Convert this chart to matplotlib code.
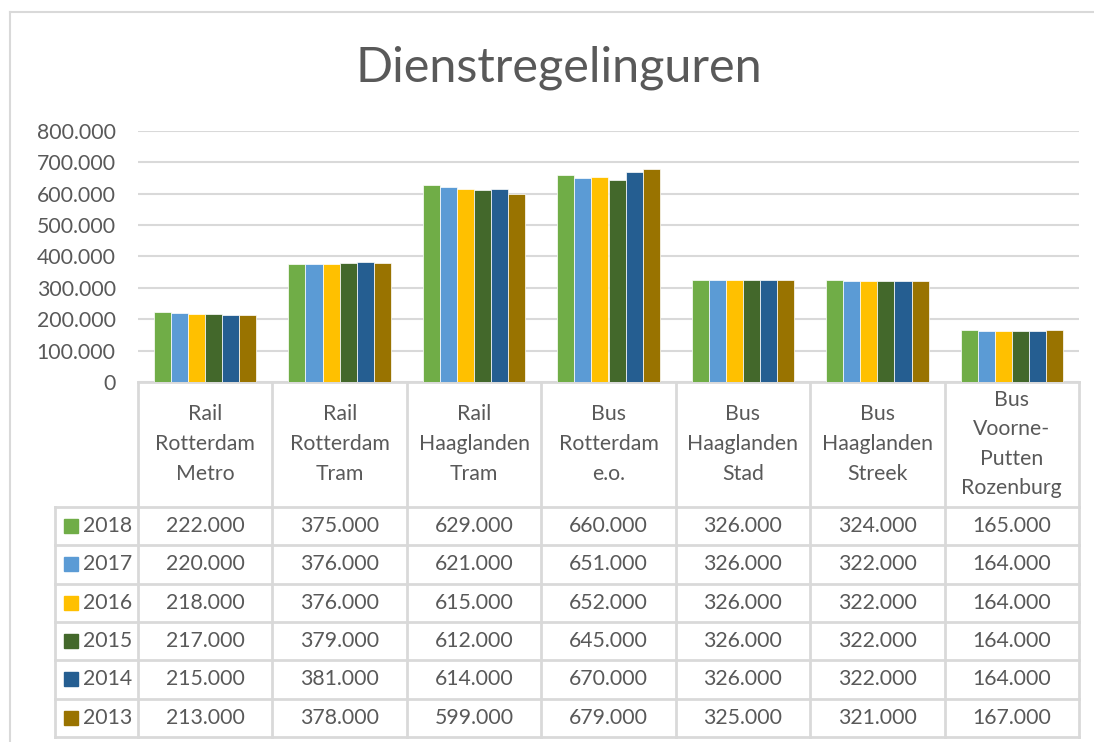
import matplotlib
matplotlib.use('Agg')
import matplotlib.pyplot as plt
import numpy as np
from matplotlib.ticker import FuncFormatter

categories = ["Rail\nRotterdam\nMetro", "Rail\nRotterdam\nTram", "Rail\nHaaglanden\nTram",
              "Bus\nRotterdam\ne.o.", "Bus\nHaaglanden\nStad", "Bus\nHaaglanden\nStreek",
              "Bus\nVoorne-\nPutten\nRozenburg"]
years = ["2018", "2017", "2016", "2015", "2014", "2013"]
v2018 = [222000, 375000, 629000, 660000, 326000, 324000, 165000]
v2017 = [220000, 376000, 621000, 651000, 326000, 322000, 164000]
v2016 = [218000, 376000, 615000, 652000, 326000, 322000, 164000]
v2015 = [217000, 379000, 612000, 645000, 326000, 322000, 164000]
v2014 = [215000, 381000, 614000, 670000, 326000, 322000, 164000]
v2013 = [213000, 378000, 599000, 679000, 325000, 321000, 167000]
series = [v2018, v2017, v2016, v2015, v2014, v2013]
colors = ["#70AD47", "#5B9BD5", "#FFC000", "#43682B", "#255E91", "#997300"]
yticks = [0, 100000, 200000, 300000, 400000, 500000, 600000, 700000, 800000]

FONT = ['Lato', 'DejaVu Sans']
plt.rcParams['font.family'] = FONT
TXT = '#595959'
GRID = '#D9D9D9'
FS = 15.3

W, H = 1094, 742
fig = plt.figure(figsize=(W / 100, H / 100), dpi=100)
fig.patch.set_facecolor('white')

L, R, T, B = 138, 1079, 131, 382
ax = fig.add_axes([L / W, 1 - B / H, (R - L) / W, (B - T) / H])
n = len(categories)
x = np.arange(n)
bw = 0.127
for i, (vals, c) in enumerate(zip(series, colors)):
    ax.bar(x + (i - 2.5) * bw, vals, bw, color=c, edgecolor='#FFFFFF', linewidth=0.5, zorder=3)
ax.set_xlim(-0.5, n - 0.5)
ax.set_ylim(0, 800000)
ax.set_yticks(yticks)
ax.yaxis.set_major_formatter(FuncFormatter(lambda v, p: "0" if v == 0 else f"{int(v):,}".replace(",", ".")))
ax.tick_params(axis='y', length=0, pad=16, labelsize=FS, labelcolor=TXT)
ax.set_xticks([])
for s in ax.spines.values():
    s.set_visible(False)
ax.yaxis.grid(True, color=GRID, linewidth=1.5, zorder=0)
ax.set_axisbelow(True)
ax.patch.set_visible(False)

ov = fig.add_axes([0, 0, 1, 1], zorder=-1)
ov.set_xlim(0, W)
ov.set_ylim(H, 0)
ov.axis('off')

# chart border
ov.plot([10, 10], [12, H], color=GRID, lw=1.5)
ov.plot([10, W], [12, 12], color=GRID, lw=1.5)

# title
ov.text(559, 68, "Dienstregelinguren", ha='center', va='center', fontsize=35,
        fontweight='normal', color=TXT)

# table
cw = (R - L) / n
col_edges = [L + k * cw for k in range(n + 1)]
row0 = 507
rh = 38.3
rows = [row0 + j * rh for j in range(len(years) + 1)]
leg_left = 55
lc = GRID
ov.plot([L, R], [B, B], color=lc, lw=2)
for yy in rows:
    ov.plot([leg_left, R], [yy, yy], color=lc, lw=2)
for xx in col_edges:
    ov.plot([xx, xx], [B, rows[-1]], color=lc, lw=2)
ov.plot([leg_left, leg_left], [row0, rows[-1]], color=lc, lw=2)

# header
hc = 444
ls = 29.6
for k, cat in enumerate(categories):
    lines = cat.split("\n")
    m = len(lines)
    cx = L + (k + 0.5) * cw
    for i, line in enumerate(lines):
        ov.text(cx, hc + (i - (m - 1) / 2) * ls, line, ha='center', va='center',
                fontsize=FS, color=TXT)

# rows
for j, (yr, vals, c) in enumerate(zip(years, series, colors)):
    cy = row0 + (j + 0.5) * rh
    ov.add_patch(plt.Rectangle((64, cy - 7), 14, 14, color=c))
    ov.text(83, cy, yr, ha='left', va='center', fontsize=FS, color=TXT)
    for k, v in enumerate(vals):
        cx = L + (k + 0.5) * cw
        ov.text(cx, cy, f"{v:,}".replace(",", "."), ha='center', va='center',
                fontsize=FS, color=TXT)

fig.savefig("out.png", dpi=100, facecolor='white')
